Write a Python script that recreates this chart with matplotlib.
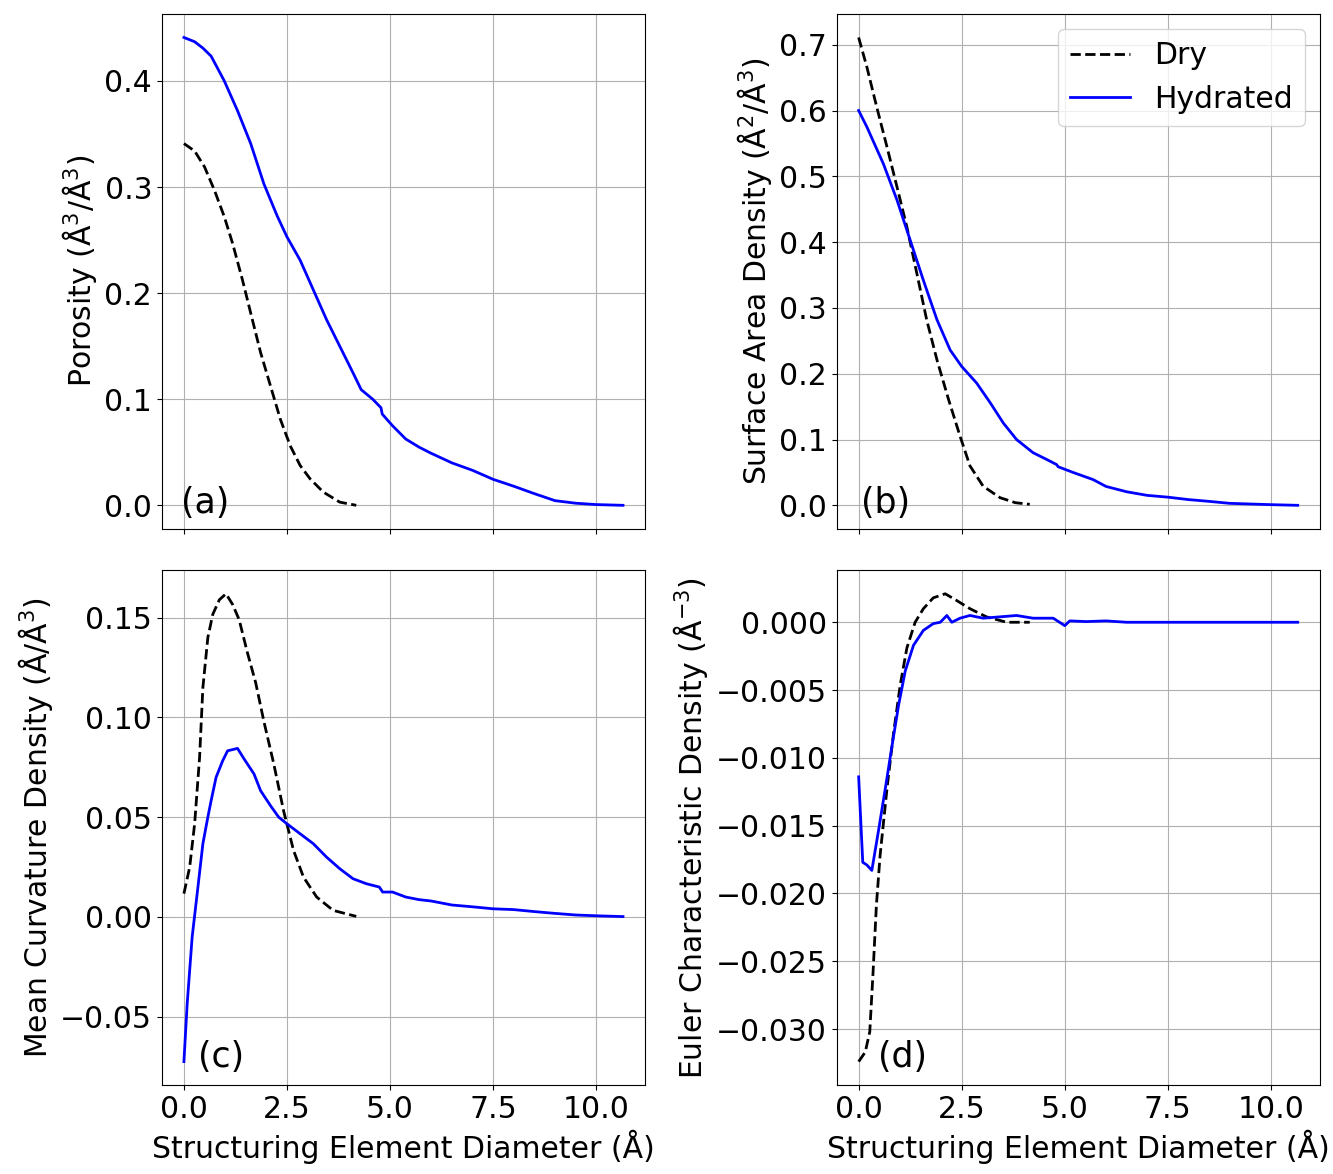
import matplotlib
matplotlib.use('Agg')
import matplotlib.pyplot as plt
import numpy as np

# (a) porosity
poro_dry_x = [0.0, 0.26, 0.5, 0.74, 0.98, 1.18, 1.42, 1.66, 1.86, 2.1, 2.34, 2.58, 2.82, 3.06,
              3.38, 3.78, 4.18]
poro_dry_y = [0.341, 0.334, 0.319, 0.297, 0.272, 0.247, 0.2125, 0.175, 0.144, 0.1125, 0.081, 0.056,
              0.0375, 0.025, 0.0125, 0.003, 0.0]
poro_hyd_x = [0.0, 0.26, 0.46, 0.66, 0.98, 1.30, 1.62, 1.94, 2.26, 2.5, 2.82, 3.14, 3.46, 3.78,
              4.10, 4.30, 4.58, 4.78, 4.81, 5.06, 5.38, 5.71, 6.0, 6.5, 7.0, 7.5, 8.0, 8.5, 9.0,
              9.5, 10.0, 10.65]
poro_hyd_y = [0.441, 0.437, 0.431, 0.4234, 0.400, 0.372, 0.341, 0.303, 0.273, 0.253, 0.231, 0.203,
              0.175, 0.150, 0.125, 0.109, 0.100, 0.092, 0.086, 0.075, 0.0625, 0.0547, 0.049, 0.040,
              0.033, 0.0245, 0.018, 0.011, 0.0044, 0.002, 0.0007, 0.0]

# (b) surface area density
sa_dry_x = [0.0, 0.2, 0.44, 0.69, 0.93, 1.17, 1.41, 1.65, 1.9, 2.18, 2.46, 2.7, 3.02, 3.43, 3.8, 4.15]
sa_dry_y = [0.711, 0.666, 0.605, 0.544, 0.484, 0.423, 0.353, 0.282, 0.221, 0.161, 0.105, 0.060,
            0.029, 0.0116, 0.004, 0.0015]
sa_hyd_x = [0.0, 0.2, 0.6, 0.93, 1.25, 1.57, 1.9, 2.22, 2.5, 2.86, 3.19, 3.51, 3.83, 4.23, 4.56,
            4.8, 4.84, 5.2, 5.69, 6.0, 6.5, 7.0, 7.5, 8.0, 8.5, 9.0, 9.5, 10.0, 10.65]
sa_hyd_y = [0.600, 0.575, 0.519, 0.464, 0.403, 0.342, 0.282, 0.236, 0.211, 0.186, 0.156, 0.125,
            0.100, 0.080, 0.0697, 0.062, 0.0586, 0.050, 0.039, 0.0287, 0.0206, 0.0151, 0.0124,
            0.0087, 0.006, 0.003, 0.002, 0.001, 0.0]

# (c) mean curvature density
mc_dry_x = [0.0, 0.14, 0.26, 0.38, 0.46, 0.58, 0.7, 0.86, 1.02, 1.18, 1.34, 1.54, 1.74, 1.94,
            2.18, 2.42, 2.66, 2.9, 3.22, 3.62, 4.18]
mc_dry_y = [0.0117, 0.025, 0.0467, 0.080, 0.115, 0.140, 0.1517, 0.159, 0.162, 0.1567, 0.149,
            0.1325, 0.1175, 0.098, 0.0767, 0.053, 0.0333, 0.020, 0.010, 0.0033, 0.0003]
mc_hyd_x = [0.0, 0.08, 0.2, 0.34, 0.46, 0.58, 0.66, 0.78, 0.94, 1.06, 1.3, 1.46, 1.7, 1.86, 2.1,
            2.3, 2.5, 2.82, 3.14, 3.46, 3.78, 4.1, 4.42, 4.74, 4.82, 5.06, 5.38, 5.7, 6.0, 6.5,
            7.0, 7.5, 8.0, 8.5, 9.0, 9.5, 10.0, 10.65]
mc_hyd_y = [-0.0725, -0.0433, -0.010, 0.015, 0.0367, 0.050, 0.0583, 0.070, 0.0783, 0.0833,
            0.0845, 0.0792, 0.0717, 0.0633, 0.0558, 0.050, 0.0467, 0.0417, 0.0367, 0.030, 0.0242,
            0.0192, 0.0167, 0.015, 0.0125, 0.0125, 0.010, 0.0087, 0.008, 0.006, 0.0051, 0.0041,
            0.0037, 0.0027, 0.0018, 0.001, 0.0006, 0.0002]

# (d) euler characteristic density
ec_dry_x = [0.0, 0.16, 0.27, 0.35, 0.43, 0.52, 0.69, 0.85, 1.01, 1.17, 1.37, 1.57, 1.81, 2.1,
            2.38, 2.7, 3.1, 3.59, 4.15]
ec_dry_y = [-0.0324, -0.0317, -0.0302, -0.0258, -0.0209, -0.0172, -0.0122, -0.0081, -0.0046,
            -0.0019, 0.0, 0.001, 0.0018, 0.0021, 0.0016, 0.001, 0.0004, 0.0, 0.0]
ec_hyd_x = [0.0, 0.1, 0.2, 0.32, 0.48, 0.65, 0.81, 0.97, 1.13, 1.33, 1.57, 1.81, 1.98, 2.14, 2.26,
            2.46, 2.7, 3.02, 3.43, 3.83, 4.23, 4.72, 5.0, 5.12, 5.52, 6.0, 6.5, 7.0, 8.0, 9.0, 10.65]
ec_hyd_y = [-0.0114, -0.0177, -0.0179, -0.0183, -0.0154, -0.0122, -0.0091, -0.0061, -0.0036,
            -0.0017, -0.0006, -0.0001, 0.0, 0.0005, 0.0, 0.0003, 0.0005, 0.0003, 0.0004, 0.0005,
            0.0003, 0.0003, -0.00025, 0.0001, 0.00005, 0.0001, 0.0, 0.0, 0.0, 0.0, 0.0]

panels = [
    (poro_dry_x, poro_dry_y, poro_hyd_x, poro_hyd_y, r'Porosity (Å$^3$/Å$^3$)', '(a)', (0.04, 0.03)),
    (sa_dry_x, sa_dry_y, sa_hyd_x, sa_hyd_y, r'Surface Area Density (Å$^2$/Å$^3$)', '(b)', (0.05, 0.03)),
    (mc_dry_x, mc_dry_y, mc_hyd_x, mc_hyd_y, r'Mean Curvature Density (Å/Å$^3$)', '(c)', (0.075, 0.035)),
    (ec_dry_x, ec_dry_y, ec_hyd_x, ec_hyd_y, r'Euler Characteristic Density (Å$^{-3}$)', '(d)', (0.085, 0.035)),
]

plt.rcParams['font.size'] = 21.5
fig, axes = plt.subplots(2, 2, figsize=(13.33, 11.74), dpi=100, sharex=True)
fig.subplots_adjust(left=0.1215, right=0.990, top=0.988, bottom=0.0758, wspace=0.397, hspace=0.081)

for ax, (dx, dy, hx, hy, ylab, tag, pos) in zip(axes.flat, panels):
    ax.plot(dx, dy, 'k--', linewidth=2, label='Dry')
    ax.plot(hx, hy, 'b-', linewidth=2, label='Hydrated')
    ax.set_ylabel(ylab)
    ax.grid(True)
    ax.text(pos[0], pos[1], tag, transform=ax.transAxes, fontsize=25)

axes[0, 1].legend(loc='upper right')
axes[0, 0].set_yticks([0.0, 0.1, 0.2, 0.3, 0.4])
axes[1, 0].set_yticks([-0.05, 0.0, 0.05, 0.10, 0.15])
axes[1, 1].set_yticks([-0.030, -0.025, -0.020, -0.015, -0.010, -0.005, 0.0])
axes[1, 0].set_xticks([0.0, 2.5, 5.0, 7.5, 10.0])
for ax in axes[1]:
    ax.set_xlabel('Structuring Element Diameter (Å)')

fig.savefig('out.png', dpi=100)
